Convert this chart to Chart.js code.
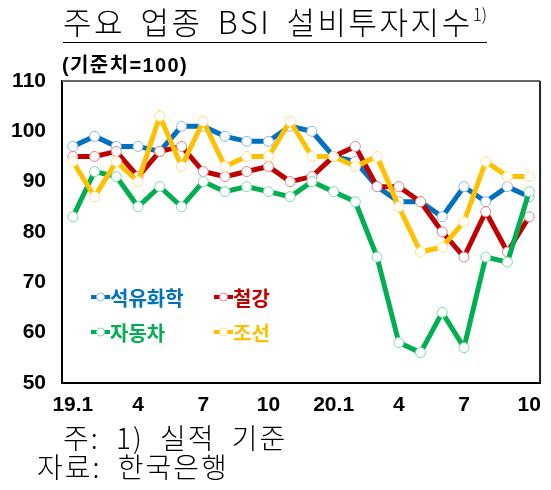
<!DOCTYPE html>
<html>
<head>
<meta charset="utf-8">
<script src="https://cdn.jsdelivr.net/npm/chart.js@4"></script>
<style>
    html, body { margin: 0; padding: 0; background: #fff; }
    #wrap { position: relative; width: 551px; height: 490px; overflow: hidden; }
    #chart { position: absolute; left: 0; top: 0; }
    .title {
        position: absolute; left: 63px; top: 0px;
        font-family: "Noto Sans CJK KR", sans-serif; font-weight: 300;
        font-size: 31px; color: #000; white-space: nowrap; letter-spacing: 2.5px;
        border-bottom: 1.5px solid #000; line-height: 42px; word-spacing: 6px;
    }
    .title sup { font-size: 17px; vertical-align: 13px; line-height: 0; letter-spacing: 0; }
    .unit {
        position: absolute; left: 62px; top: 49px;
        font-family: "Liberation Sans", "Noto Sans CJK KR", sans-serif; font-weight: bold;
        font-size: 20px; color: #000; white-space: nowrap; letter-spacing: 1.4px;
    }
    .note {
        position: absolute; font-family: "Noto Sans CJK KR", sans-serif; font-weight: 300;
        font-size: 28px; line-height: 30px; color: #000; white-space: nowrap;
        letter-spacing: 2px; word-spacing: 8px;
    }
</style>
</head>
<body>
<div id="wrap">
    <canvas id="chart" width="551" height="490"></canvas>
    <div class="title">주요 업종 BSI 설비투자지수<sup>1)</sup></div>
    <div class="unit">(기준치=100)</div>
    <div class="note" style="left:63px; top:422px;">주: 1) 실적 기준</div>
    <div class="note" style="left:37px; top:451px;">자료: 한국은행</div>
</div>
<script>
// monthly, 19.1 ~ 20.10
const months = ['19.1', '', '', '4', '', '', '7', '', '', '10', '', '',
    '20.1', '', '', '4', '', '', '7', '', '', '10'];

const petrochem = [97, 99, 97, 97, 96, 101, 101, 99, 98, 98, 101,
    100, 95, 94, 89, 86, 86, 83, 89, 86, 89, 87];
const steel = [95, 95, 96, 91, 96, 97, 92, 91, 92, 93, 90,
    91, 95, 97, 89, 89, 86, 80, 75, 84, 76, 83];
const autos = [83, 92, 91, 85, 89, 85, 90, 88, 89, 88, 87,
    90, 88, 86, 75, 58, 56, 64, 57, 75, 74, 88];
const shipbuilding = [94, 87, 94, 90, 103, 93, 102, 93, 95, 95, 102,
    95, 95, 93, 95, 85, 76, 77, 82, 94, 91, 91];

const yTicks = [50, 60, 70, 80, 90, 100, 110];

function series(label, data, color, pointColor, order) {
    return {
        label: label,
        data: data,
        borderColor: color,
        backgroundColor: color,
        borderWidth: 5,
        pointRadius: 5,
        pointBackgroundColor: '#ffffff',
        pointBorderColor: pointColor,
        pointBorderWidth: 1,
        tension: 0,
        order: order,
    };
}

// frame around plot + 2x2 legend inside plot
const framePlugin = {
    id: 'frame',
    beforeDatasetsDraw(chart) {
        const { ctx, chartArea: a } = chart;
        ctx.save();
        ctx.lineWidth = 2;
        ctx.strokeStyle = '#666';
        ctx.beginPath();
        ctx.moveTo(a.left, a.top);
        ctx.lineTo(a.right, a.top);
        ctx.stroke();
        ctx.strokeStyle = '#222';
        ctx.beginPath();
        ctx.moveTo(a.right, a.top);
        ctx.lineTo(a.right, a.bottom);
        ctx.stroke();
        ctx.restore();
    },
    afterDraw(chart) {
        const { ctx } = chart;
        const spots = [[91, 297], [214, 297], [91, 332], [214, 332]];
        const ds = chart.data.datasets;
        ctx.save();
        ctx.font = 'bold 20px "Noto Sans CJK KR", sans-serif';
        ctx.textBaseline = 'middle';
        ds.forEach((d, i) => {
            const [x, y] = spots[i];
            ctx.strokeStyle = d.borderColor;
            ctx.lineWidth = 4;
            ctx.beginPath();
            ctx.moveTo(x, y);
            ctx.lineTo(x + 19, y);
            ctx.stroke();
            ctx.beginPath();
            ctx.arc(x + 9.5, y, 4, 0, Math.PI * 2);
            ctx.fillStyle = '#fff';
            ctx.fill();
            ctx.lineWidth = 1;
            ctx.strokeStyle = d.pointBorderColor;
            ctx.stroke();
            ctx.fillStyle = d.borderColor;
            ctx.fillText(d.label, x + 19, y + 1);
        });
        ctx.restore();
    },
};

const ctx = document.getElementById('chart').getContext('2d');
new Chart(ctx, {
    type: 'line',
    data: {
        labels: months,
        datasets: [
            series('석유화학', petrochem, '#0070C0', '#8EB4E3', 3),
            series('철강', steel, '#C00000', '#E08585', 2),
            series('자동차', autos, '#00B050', '#7FD8A8', 1),
            series('조선', shipbuilding, '#FFC000', '#FFE08A', 0),
        ],
    },
    options: {
        responsive: false,
        animation: false,
        layout: {
            padding: { top: 81, right: 3, bottom: 62, left: 6 },
        },
        plugins: {
            legend: { display: false },
            title: { display: false },
            tooltip: { enabled: false },
        },
        scales: {
            x: {
                offset: true,
                grid: { display: false, drawTicks: false },
                border: { display: true, color: '#000', width: 2 },
                ticks: {
                    autoSkip: false,
                    maxRotation: 0,
                    padding: 10,
                    color: '#000',
                    font: { family: '"Liberation Sans", Arial, sans-serif', size: 21, weight: 'bold' },
                },
            },
            y: {
                min: 50,
                max: 110,
                afterBuildTicks: (axis) => {
                    axis.ticks = yTicks.map((v) => ({ value: v }));
                },
                afterFit: (axis) => {
                    axis.width = 56;
                },
                grid: { display: false, drawTicks: false },
                border: { display: true, color: '#000', width: 2 },
                ticks: {
                    padding: 16,
                    color: '#000',
                    font: { family: '"Liberation Sans", Arial, sans-serif', size: 21, weight: 'bold' },
                },
            },
        },
    },
    plugins: [framePlugin],
});
</script>
</body>
</html>
